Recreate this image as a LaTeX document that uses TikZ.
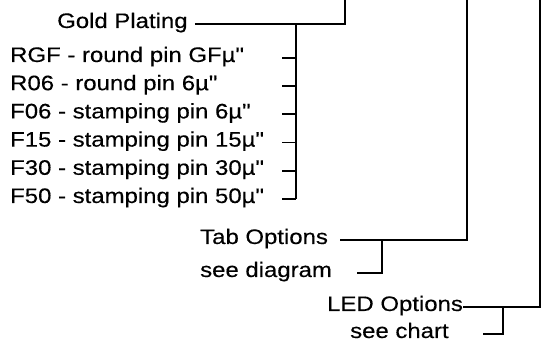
\documentclass[tikz,border=0pt]{standalone}
\usepackage{fontspec}
\setmainfont[FakeStretch=1.14, FakeBold=0.3, Ligatures=TeXOff]{Liberation Sans}
\tikzset{
  lbl/.style={anchor=base west, inner sep=0pt, text height=14pt, text depth=6pt, font=\fontsize{21}{25}\selectfont},
  wire/.style={line width=1.8pt}}

\begin{document}
\begin{tikzpicture}[x=1pt, y=-1pt]
  \useasboundingbox (0,0) rectangle (555,347);
  % leads going up off the top
  \coordinate (gtop) at (345,0);
  \coordinate (ttop) at (467,0);
  \coordinate (ltop) at (540,0);
  % bracket bars and the x where their stubs start
  \coordinate (gbar) at (296,0);
  \coordinate (gstub) at (282,0);
  \coordinate (tbar) at (382,0);
  \coordinate (tstub) at (357,0);
  \coordinate (lbar) at (503,0);
  \coordinate (lstub) at (483,0);

  \node[lbl] (gold) at (57,28) {Gold Plating};
  \foreach \pin/\desc [count=\i] in {RGF/{round pin GFµ"}, R06/{round pin 6µ"}, F06/{stamping pin 6µ"}, F15/{stamping pin 15µ"}, F30/{stamping pin 30µ"}, F50/{stamping pin 50µ"}} {
    \node[lbl] (g\i) at (10,{33.8+28.2*\i}) {\pin{} - \desc};
    \draw[wire] (g\i.east -| gstub) -- (g\i.east -| gbar);
  }
  \draw[wire] ([xshift=7pt]gold.east) -- (gold.east -| gtop) -- (gtop);
  \draw[wire] (gold.east -| gbar) -- (g6.east -| gbar);

  \node[lbl] (tab) at (200,244) {Tab Options};
  \node[lbl] (tabsee) at (200,277) {see diagram};
  \draw[wire] ([xshift=12pt]tab.east) -- (tab.east -| ttop) -- (ttop);
  \draw[wire] (tab.east -| tbar) -- (tabsee.east -| tbar) -- (tabsee.east -| tstub);

  \node[lbl] (led) at (327,311) {LED Options};
  \node[lbl] (ledsee) at (350,338) {see chart};
  \draw[wire] (led.east) -- (led.east -| ltop) -- (ltop);
  \draw[wire] (led.east -| lbar) -- (ledsee.east -| lbar) -- (ledsee.east -| lstub);
\end{tikzpicture}
\end{document}
